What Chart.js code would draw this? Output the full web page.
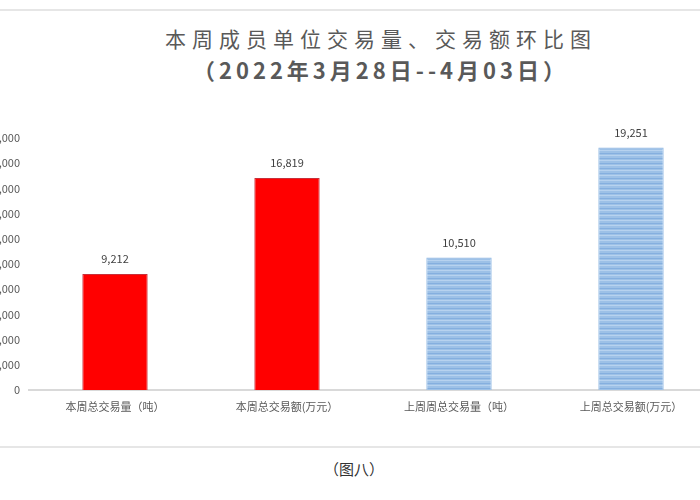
<!DOCTYPE html>
<html>
<head>
<meta charset="utf-8">
<script src="https://cdn.jsdelivr.net/npm/chart.js@4.4.1/dist/chart.umd.min.js"></script>
<style>
  html, body { margin: 0; padding: 0; background: #fff; }
  body { width: 700px; height: 500px; overflow: hidden; position: relative; font-family: "Noto Sans CJK SC", sans-serif; }
  .rule { position: absolute; left: 0; width: 700px; height: 0; border-top: 2px solid #e6e6e6; }
  .title { position: absolute; left: 0; width: 762px; text-align: center; line-height: 26px;
           color: #595959; white-space: nowrap; }
  #t1 { top: 25px; font-size: 21px; letter-spacing: 6px; }
  #t2 { top: 56px; font-size: 22px; letter-spacing: 4px; font-weight: bold; }
  #box { position: absolute; left: -40px; top: 0; width: 836px; height: 430px; }
  #caption { position: absolute; top: 458px; left: 0; width: 708px; text-align: center; font-size: 15px; color: #333; }
</style>
</head>
<body>
<div class="rule" style="top:9px"></div>
<div class="title" id="t1"></div>
<div class="title" id="t2"></div>
<div id="box"><canvas id="barChart"></canvas></div>
<div class="rule" style="top:446px"></div>
<div id="caption">（图八）</div>
<script>
// données du graphique
const categories = ['本周总交易量（吨）', '本周总交易额(万元）', '上周周总交易量（吨）', '上周总交易额(万元）'];
const values = [9212, 16819, 10510, 19251];
const yTicks = [0, 2000, 4000, 6000, 8000, 10000, 12000, 14000, 16000, 18000, 20000];
const titleLine1 = '本周成员单位交易量、交易额环比图';
const titleLine2 = '（2022年3月28日--4月03日）';

document.getElementById('t1').textContent = titleLine1;
document.getElementById('t2').textContent = titleLine2;

const fontFamily = '"Noto Sans CJK SC", "Noto Sans", sans-serif';

// motif rayé pour les barres de la semaine précédente
function stripePattern() {
  const c = document.createElement('canvas');
  c.width = 8; c.height = 5;
  const g = c.getContext('2d');
  g.fillStyle = '#9dc1e7';
  g.fillRect(0, 0, 8, 5);
  g.fillStyle = '#b7d2ef';
  g.fillRect(0, 0, 8, 1);
  g.fillStyle = '#85afdf';
  g.fillRect(0, 3, 8, 1);
  return g.createPattern(c, 'repeat');
}
const blue = stripePattern();

// étiquettes de valeur au-dessus des barres
const valueLabels = {
  id: 'valueLabels',
  afterDatasetsDraw(chart) {
    const ctx = chart.ctx;
    const meta = chart.getDatasetMeta(0);
    ctx.save();
    ctx.font = '11px ' + fontFamily;
    ctx.fillStyle = '#404040';
    ctx.textAlign = 'center';
    ctx.textBaseline = 'middle';
    meta.data.forEach((bar, i) => {
      ctx.fillText(values[i].toLocaleString('en-US'), bar.x, bar.y - 15);
    });
    ctx.restore();
  }
};

const ctx = document.getElementById('barChart').getContext('2d');
new Chart(ctx, {
  type: 'bar',
  data: {
    labels: categories,
    datasets: [{
      data: values,
      backgroundColor: values.map((v, i) => i < 2 ? '#ff0000' : blue),
      borderColor: values.map((v, i) => i < 2 ? '#c8303a' : '#8fb8e3'),
      borderWidth: 1,
      categoryPercentage: 1,
      barPercentage: 0.38
    }]
  },
  options: {
    responsive: true,
    maintainAspectRatio: false,
    animation: false,
    layout: { padding: { top: 138, right: 79, bottom: 10, left: 0 } },
    plugins: {
      legend: { display: false },
      tooltip: { enabled: false },
      title: { display: false }
    },
    scales: {
      x: {
        grid: { display: false, drawTicks: false },
        border: { display: true, color: '#d9d9d9', width: 2 },
        ticks: { color: '#595959', font: { family: fontFamily, size: 11 }, padding: 10, maxRotation: 0 },
        afterFit: s => { s.height = 30; }
      },
      y: {
        min: 0,
        max: yTicks[yTicks.length - 1],
        afterBuildTicks: s => { s.ticks = yTicks.map(v => ({ value: v })); },
        grid: { display: false, drawTicks: false },
        border: { display: false },
        ticks: {
          color: '#595959',
          font: { family: fontFamily, size: 11 },
          padding: 9,
          callback: v => v.toLocaleString('en-US')
        },
        afterFit: s => { s.width = 69; }
      }
    }
  },
  plugins: [valueLabels]
});
</script>
</body>
</html>
